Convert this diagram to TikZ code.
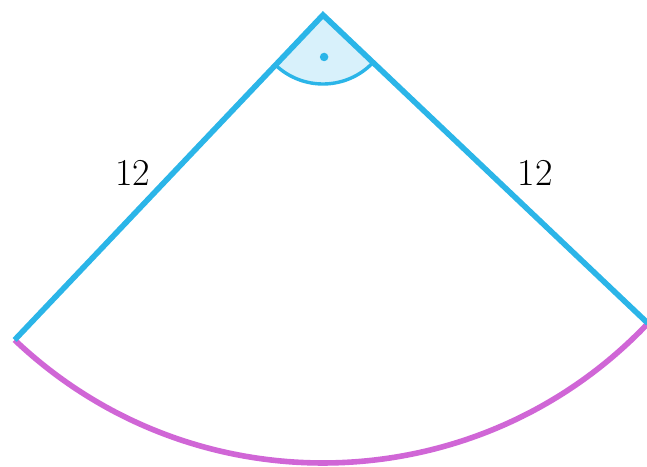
\documentclass[tikz,border=0pt]{standalone}
\usetikzlibrary{calc}
\definecolor{sideblue}{HTML}{2BB5E8}
\definecolor{arcpink}{HTML}{D066D6}
\definecolor{anglefill}{HTML}{D8F1FB}
\begin{document}
\begin{tikzpicture}[x=1pt,y=1pt,
  side/.style={draw=sideblue,line width=5.6pt},
  rim/.style={draw=arcpink,line width=5.6pt},
  anglemark/.style={draw=sideblue,line width=3.4pt},
  lbl/.style={font=\fontsize{38}{40}\selectfont,inner sep=0pt}]
\clip (0,0) rectangle (647,466);
\coordinate (O) at (323,451);
\coordinate (L) at ($(O)+(226.5:448)$);
\coordinate (R) at ($(O)+(316.5:448)$);
\coordinate (M1) at ($(O)+(226.5:69)$);
\fill[anglefill] (O) -- (M1) arc[start angle=226.5,end angle=316.5,radius=69] -- cycle;
\draw[anglemark] (M1) arc[start angle=226.5,end angle=316.5,radius=69];
\node[circle,fill=sideblue,inner sep=0pt,minimum size=8.5pt] (dot) at ($(O)+(271.5:42)$) {};
\path[rim] (L) arc[start angle=226.5,end angle=316.5,radius=448];
\path[side] (L) -- (O) -- (R);
\node[lbl] (l1) at (132.5,293) {12};
\node[lbl] (l2) at (535,293) {12};
\end{tikzpicture}
\end{document}
